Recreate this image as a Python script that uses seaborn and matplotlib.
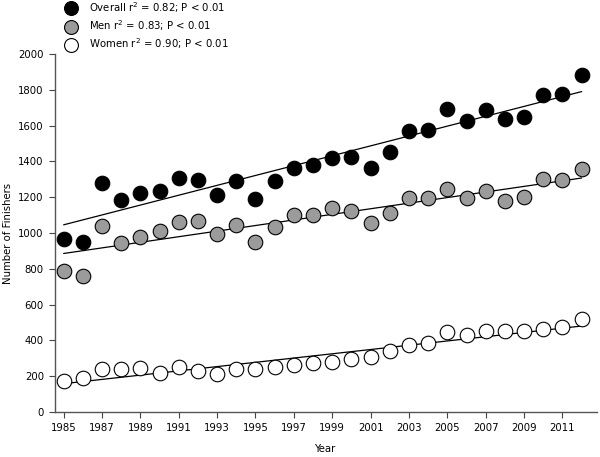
import numpy as np
import pandas as pd
import matplotlib
matplotlib.use("Agg")
import matplotlib.pyplot as plt
import seaborn as sns
from matplotlib.lines import Line2D

years = list(range(1985, 2013))
overall = [965, 950, 1280, 1185, 1225, 1235, 1310, 1295, 1215, 1290, 1190, 1290, 1365, 1380,
           1420, 1425, 1365, 1455, 1570, 1575, 1690, 1625, 1685, 1635, 1650, 1770, 1775, 1885]
men = [790, 760, 1040, 945, 975, 1010, 1060, 1065, 995, 1045, 950, 1035, 1100, 1100,
       1140, 1125, 1055, 1110, 1195, 1195, 1245, 1195, 1235, 1180, 1200, 1300, 1295, 1360]
women = [175, 190, 240, 240, 245, 220, 250, 230, 215, 240, 240, 250, 260, 275,
         280, 295, 305, 340, 375, 385, 445, 430, 450, 455, 450, 465, 475, 520]
labels = ["Overall r$^2$ = 0.82; P < 0.01",
          "Men r$^2$ = 0.83; P < 0.01",
          "Women r$^2$ = 0.90; P < 0.01"]
xticks = list(range(1985, 2012, 2))
yticks = list(range(0, 2001, 200))

sns.set_theme(style="ticks", rc={"text.color": "black", "axes.labelcolor": "black",
                                 "xtick.color": "black", "ytick.color": "black"})
plt.rcParams['font.family'] = ['DejaVu Sans']

fig = plt.figure(figsize=(6, 4.57), dpi=100)
ax = fig.add_axes([55/600, 45/457, 542/600, 358/457])

series = [(overall, "black"), (men, "#9b9b9b"), (women, "white")]
for vals, fc in series:
    df = pd.DataFrame({"Year": years, "N": vals})
    sns.regplot(data=df, x="Year", y="N", ax=ax, scatter=False, ci=None,
                line_kws=dict(color="black", lw=0.9), truncate=True)
    sns.scatterplot(data=df, x="Year", y="N", ax=ax, s=110, color=fc,
                    edgecolor="black", linewidth=0.8, zorder=3)

ax.set_xlim(1984.55, 2012.8)
ax.set_ylim(0, 2000)
ax.set_xticks(xticks)
ax.set_yticks(yticks)
ax.tick_params(labelsize=7.3, length=4, width=0.8, color="#444444", labelcolor="black", pad=4)
for s in ["top", "right"]:
    ax.spines[s].set_visible(False)
for s in ["left", "bottom"]:
    ax.spines[s].set_color("#555555")
    ax.spines[s].set_linewidth(1.0)
ax.set_xlabel("Year", fontsize=7.3, color="black")
ax.set_ylabel("Number of Finishers", fontsize=7.3, color="black")
ax.xaxis.set_label_coords(0.5, -0.088)
ax.yaxis.set_label_coords(-0.077, 0.5)

handles = [Line2D([], [], marker="o", ls="none", markersize=10, markerfacecolor=fc,
                  markeredgecolor="black", markeredgewidth=0.8) for _, fc in series]
handles[2] = Line2D([], [], marker="o", ls="-", color="black", lw=0.8, markersize=10,
                    markerfacecolor="white", markeredgecolor="black", markeredgewidth=0.8)
leg = fig.legend(handles, labels, loc="upper left", bbox_to_anchor=(60/600, 1.009),
                 frameon=False, fontsize=7.3, handlelength=1.3, handletextpad=1.2,
                 labelspacing=0.35, borderaxespad=0.0)
for t in leg.get_texts():
    t.set_color("black")

fig.savefig("out.png", dpi=100)
